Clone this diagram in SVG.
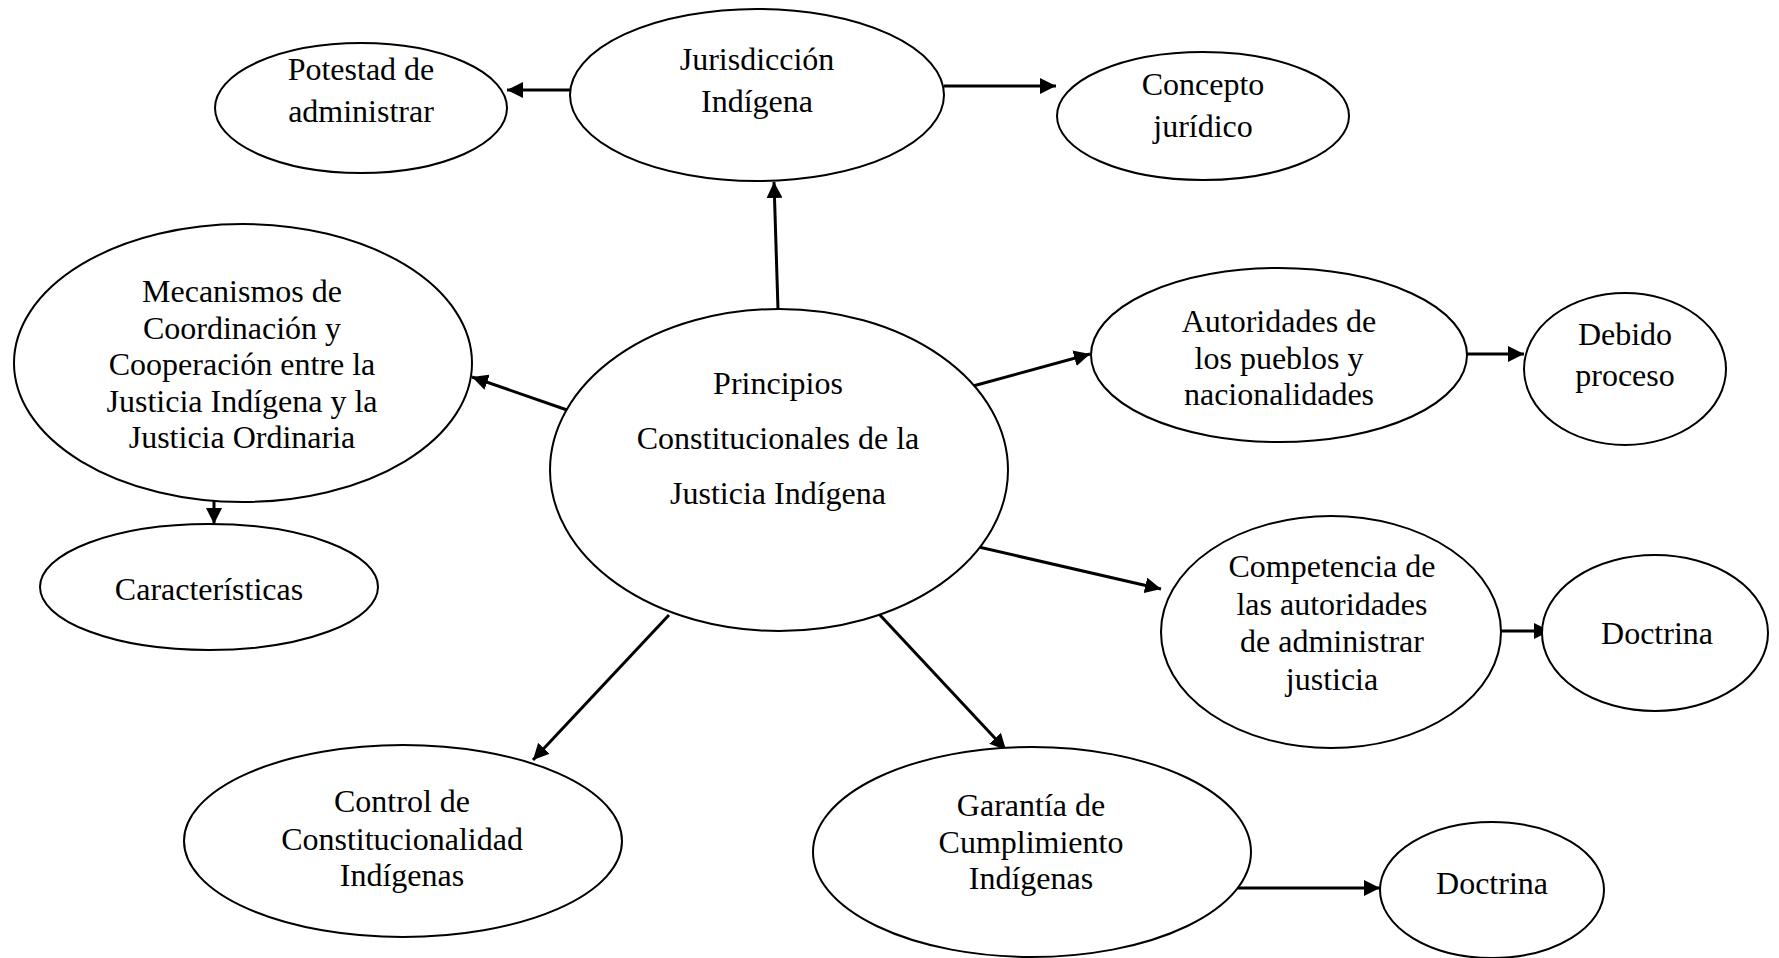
<svg xmlns="http://www.w3.org/2000/svg" width="1779" height="958" viewBox="0 0 1779 958">
<style>
.n ellipse{fill:#fff;stroke:#000;stroke-width:2}
.n text{font-family:"Liberation Serif","Times New Roman",serif;font-size:32px;fill:#000;text-anchor:middle}
.c line{stroke:#000;stroke-width:3;marker-end:url(#ah)}
</style>
<defs>
<marker id="ah" viewBox="0 0 16 16" refX="16" refY="8" markerWidth="16" markerHeight="16" markerUnits="userSpaceOnUse" orient="auto">
<path d="M0,0 L16,8 L0,16 z" fill="#000"/>
</marker>
</defs>
<rect width="1779" height="958" fill="#fff"/>
<g class="c">
<line x1="571" y1="90" x2="507" y2="90"/>
<line x1="944" y1="86" x2="1056" y2="86"/>
<line x1="778" y1="309" x2="774" y2="182"/>
<line x1="570" y1="411" x2="472" y2="377"/>
<line x1="214" y1="501" x2="214" y2="524"/>
<line x1="973" y1="386" x2="1090" y2="354"/>
<line x1="1467" y1="354" x2="1524" y2="354"/>
<line x1="970" y1="545" x2="1161" y2="589"/>
<line x1="1501" y1="631" x2="1550" y2="631"/>
<line x1="669" y1="615" x2="533" y2="760"/>
<line x1="879" y1="614" x2="1006" y2="750"/>
<line x1="1229" y1="888" x2="1380" y2="888"/>
</g>
<g id="potestad" class="n"><ellipse cx="361" cy="108" rx="146" ry="65"/><text x="361" y="80">Potestad de</text><text x="361" y="122">administrar</text></g>
<g id="jurisdiccion" class="n"><ellipse cx="757" cy="95" rx="187" ry="86"/><text x="757" y="70">Jurisdicción</text><text x="757" y="112">Indígena</text></g>
<g id="concepto" class="n"><ellipse cx="1203" cy="116" rx="146" ry="64"/><text x="1203" y="95">Concepto</text><text x="1203" y="137">jurídico</text></g>
<g id="principios" class="n"><ellipse cx="779" cy="470" rx="229" ry="161"/><text x="778" y="394">Principios</text><text x="778" y="449">Constitucionales de la</text><text x="778" y="504">Justicia Indígena</text></g>
<g id="mecanismos" class="n"><ellipse cx="243" cy="363" rx="229" ry="139"/><text x="242" y="302">Mecanismos de</text><text x="242" y="339">Coordinación y</text><text x="242" y="375">Cooperación entre la</text><text x="242" y="412">Justicia Indígena y la</text><text x="242" y="448">Justicia Ordinaria</text></g>
<g id="caracteristicas" class="n"><ellipse cx="209" cy="587" rx="169" ry="63"/><text x="209" y="600">Características</text></g>
<g id="autoridades" class="n"><ellipse cx="1279" cy="355" rx="188" ry="87"/><text x="1279" y="332">Autoridades de</text><text x="1279" y="369">los pueblos y</text><text x="1279" y="405">nacionalidades</text></g>
<g id="debido" class="n"><ellipse cx="1625" cy="369" rx="101" ry="76"/><text x="1625" y="345">Debido</text><text x="1625" y="386">proceso</text></g>
<g id="competencia" class="n"><ellipse cx="1331" cy="632" rx="170" ry="116"/><text x="1332" y="577">Competencia de</text><text x="1332" y="615">las autoridades</text><text x="1332" y="652">de administrar</text><text x="1332" y="690">justicia</text></g>
<g id="doctrina1" class="n"><ellipse cx="1655" cy="633" rx="113" ry="78"/><text x="1657" y="644">Doctrina</text></g>
<g id="control" class="n"><ellipse cx="403" cy="841" rx="219" ry="96"/><text x="402" y="812">Control de</text><text x="402" y="850">Constitucionalidad</text><text x="402" y="886">Indígenas</text></g>
<g id="garantia" class="n"><ellipse cx="1032" cy="852" rx="219" ry="105"/><text x="1031" y="816">Garantía de</text><text x="1031" y="853">Cumplimiento</text><text x="1031" y="889">Indígenas</text></g>
<g id="doctrina2" class="n"><ellipse cx="1492" cy="890" rx="112" ry="68"/><text x="1492" y="894">Doctrina</text></g>
</svg>
